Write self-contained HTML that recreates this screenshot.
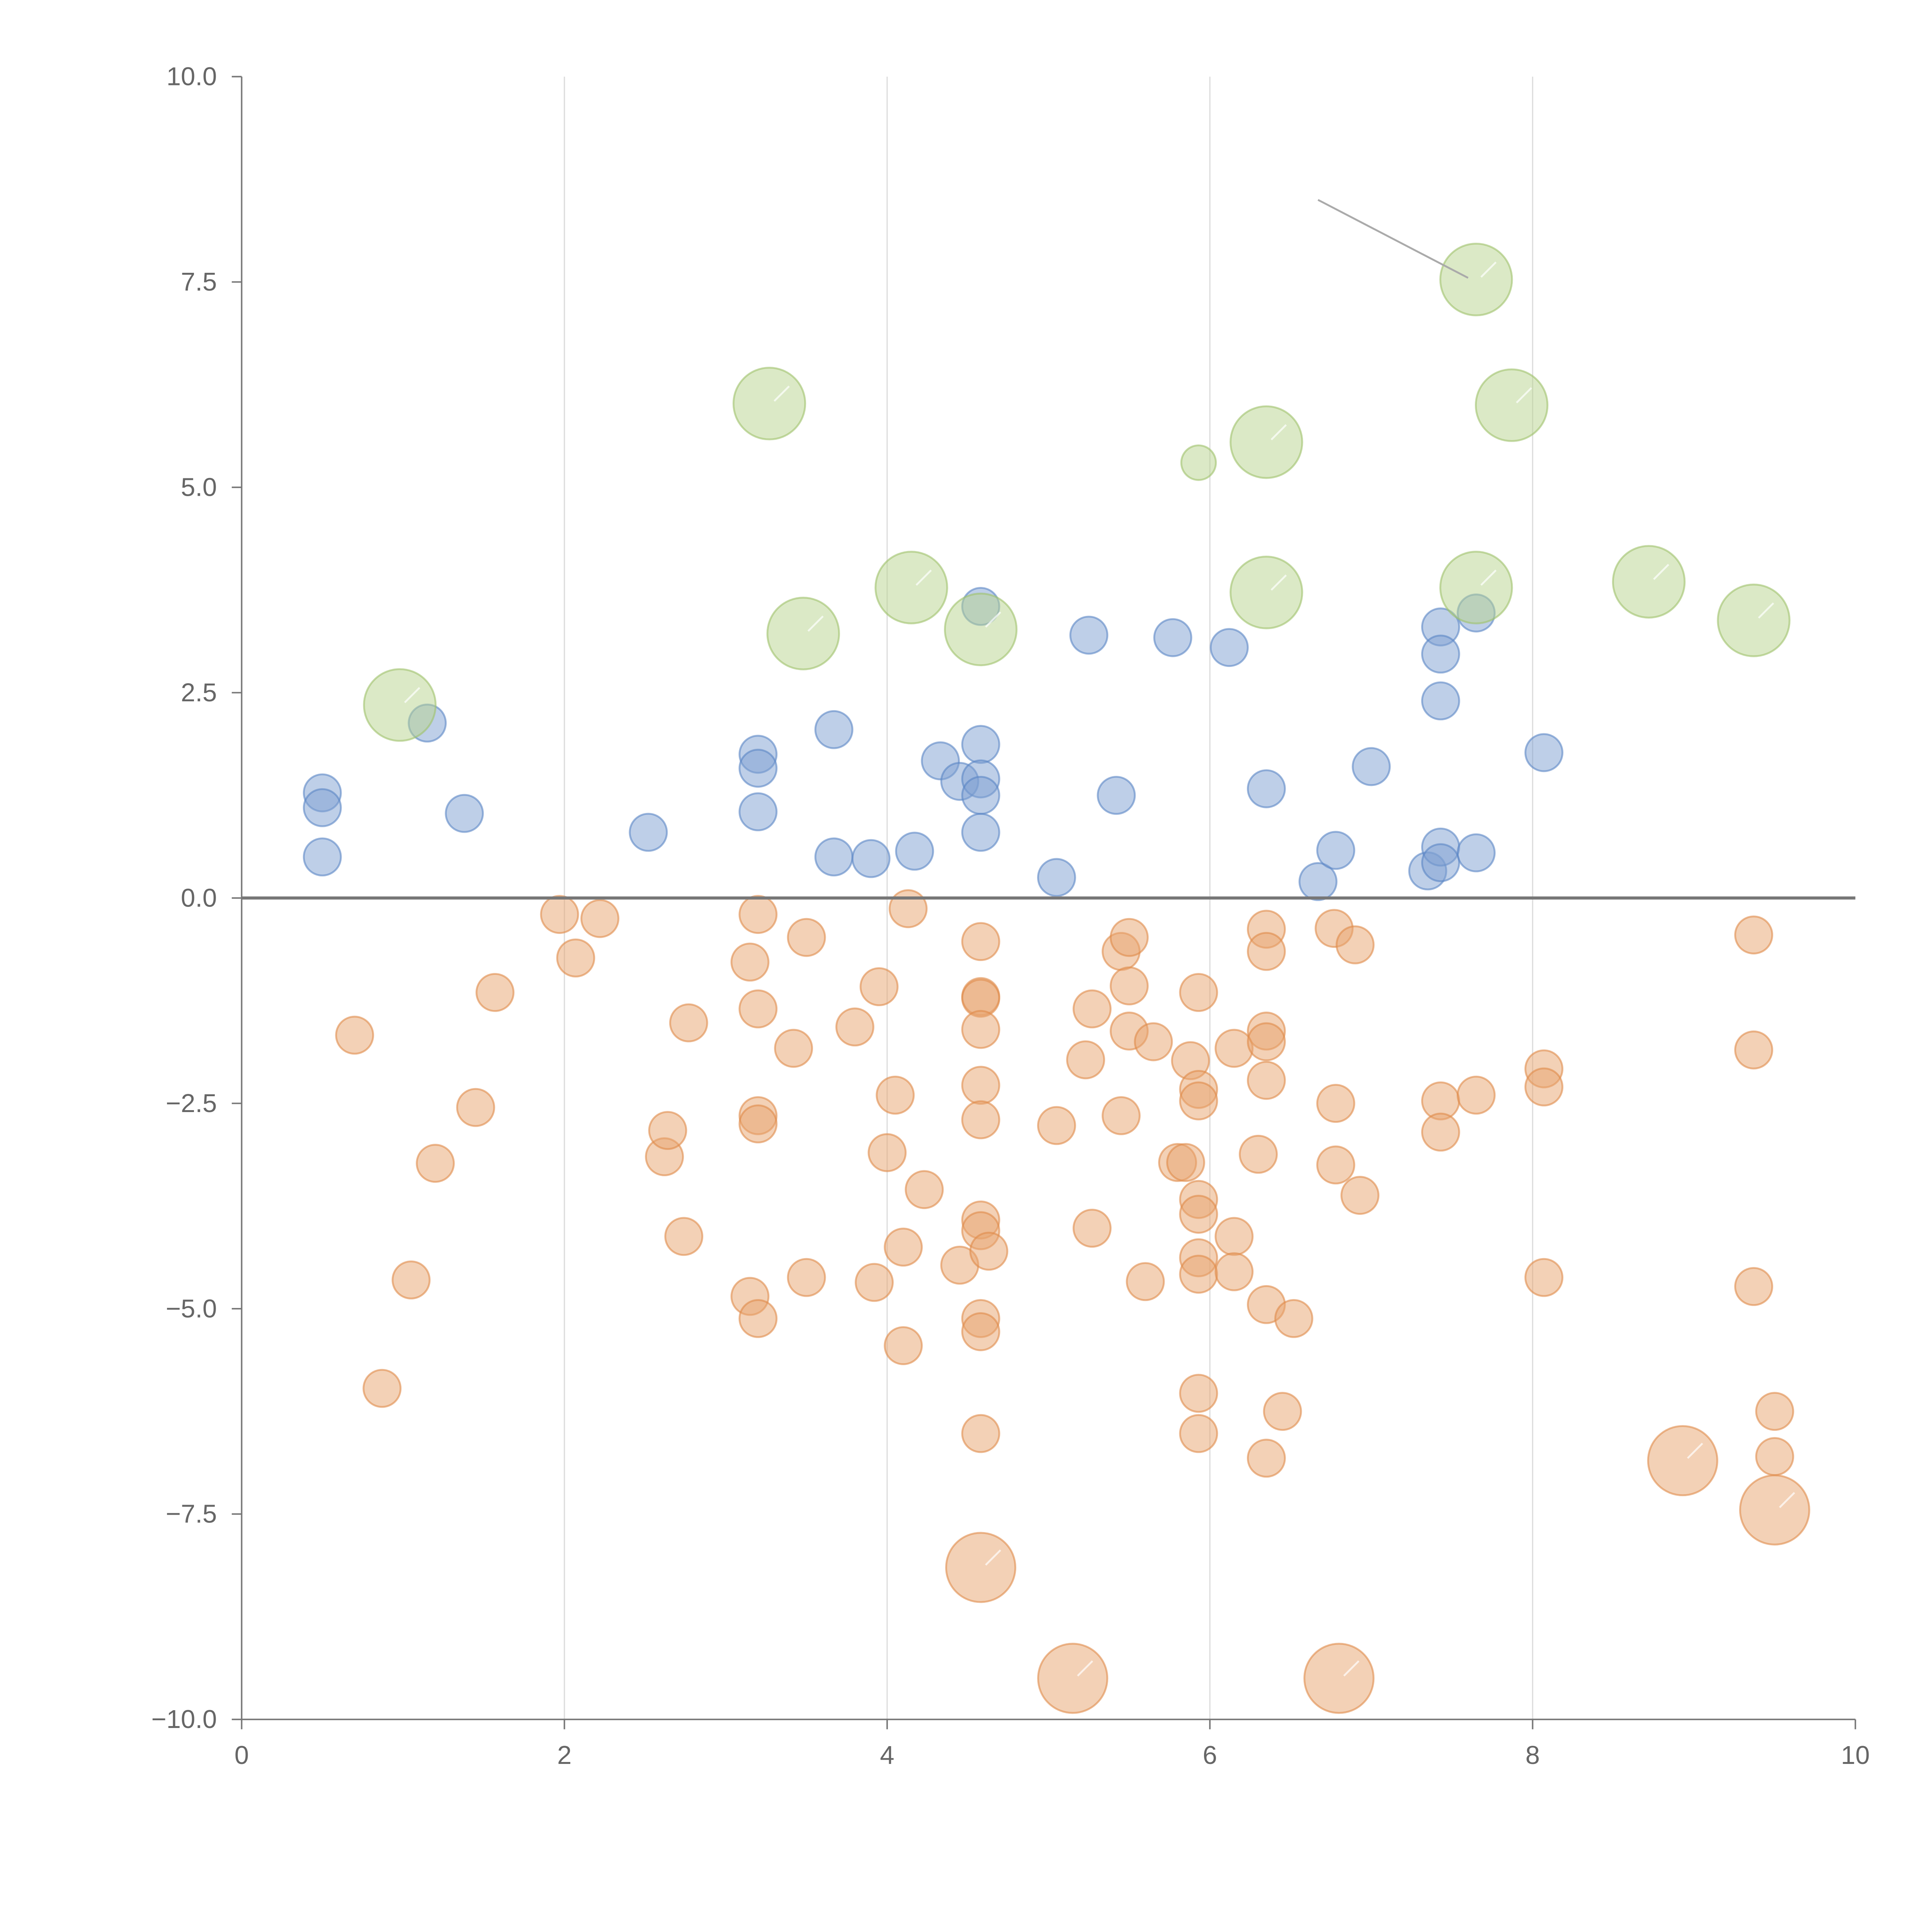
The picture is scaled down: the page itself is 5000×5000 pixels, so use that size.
<!DOCTYPE html>
<html><head><meta charset="utf-8"><style>html,body{margin:0;padding:0;background:#fff}svg{display:block}</style></head>
<body>
<svg id="chart" width="5000" height="5000" viewBox="0 0 1563 1563" xmlns="http://www.w3.org/2000/svg" font-family="Liberation Sans, sans-serif">
<g id="grid"></g>
<g id="marks"></g>
<g id="axes"></g>
</svg>
<script>
const xTicks=[0,2,4,6,8,10];
const yTicks=[-10,-7.5,-5,-2.5,0,2.5,5,7.5,10];
const yTickLabels=["\u221210.0","\u22127.5","\u22125.0","\u22122.5","0.0","2.5","5.0","7.5","10.0"];
const greenX=[0.98,3.27,3.48,4.15,4.58,5.93,6.35,6.35,7.65,7.87,7.65,8.72,9.37];
const greenY=[2.35,6.02,3.22,3.78,3.27,5.3,5.55,3.72,7.53,6.0,3.78,3.85,3.38];
const greenSize=[2,2,2,2,2,1,2,2,2,2,2,2,2];
const blueX=[0.5,0.5,0.5,1.15,1.38,2.52,3.2,3.2,3.2,3.67,3.67,3.9,4.17,4.33,4.45,4.58,4.58,4.58,4.58,4.58,5.05,5.25,5.42,5.77,6.12,6.35,6.67,6.78,7.0,7.35,7.43,7.43,7.43,7.43,7.43,7.65,7.65,8.07];
const blueY=[1.28,1.1,0.5,2.13,1.03,0.8,1.75,1.58,1.05,2.05,0.5,0.48,0.57,1.67,1.42,3.55,1.87,1.45,1.25,0.8,0.25,3.2,1.25,3.17,3.05,1.33,0.2,0.58,1.6,0.33,3.3,2.97,2.4,0.62,0.43,3.47,0.55,1.77];
const orangeX=[0.7,0.87,1.05,1.2,1.45,1.57,1.97,2.07,2.22,2.62,2.64,2.74,2.77,3.15,3.15,3.2,3.2,3.2,3.2,3.2,3.42,3.5,3.5,3.8,3.92,3.95,4.0,4.05,4.1,4.1,4.13,4.23,4.45,4.58,4.58,4.58,4.58,4.58,4.58,4.58,4.58,4.63,4.58,4.58,4.58,5.05,5.23,5.27,5.27,5.45,5.45,5.5,5.5,5.5,5.6,5.65,5.8,5.85,5.88,5.93,5.93,5.93,5.93,5.93,5.93,5.93,5.93,5.93,6.15,6.15,6.15,6.3,6.35,6.35,6.35,6.35,6.35,6.35,6.35,6.45,6.52,6.77,6.78,6.78,6.9,6.93,7.43,7.43,7.65,8.07,8.07,8.07,9.37,9.37,9.37,9.5,9.5];
const orangeY=[-1.67,-5.97,-4.65,-3.23,-2.55,-1.15,-0.2,-0.73,-0.25,-3.15,-2.83,-4.12,-1.52,-0.78,-4.85,-0.2,-1.35,-2.65,-2.75,-5.12,-1.83,-0.48,-4.62,-1.57,-4.68,-1.08,-3.1,-2.4,-4.25,-5.45,-0.13,-3.55,-4.47,-0.53,-1.2,-1.22,-1.6,-2.28,-2.7,-3.92,-4.05,-4.3,-5.12,-5.28,-6.52,-2.77,-1.97,-1.35,-4.02,-2.65,-0.65,-0.48,-1.07,-1.62,-4.67,-1.75,-3.22,-3.22,-1.98,-1.15,-2.33,-2.47,-3.67,-3.85,-4.38,-4.58,-6.03,-6.52,-1.83,-4.12,-4.55,-3.12,-0.38,-0.65,-1.62,-1.75,-2.22,-4.95,-6.82,-6.25,-5.12,-0.37,-2.5,-3.25,-0.57,-3.62,-2.47,-2.85,-2.4,-2.08,-2.3,-4.62,-0.45,-1.85,-4.73,-6.25,-6.8];
const bigOrangeX=[4.58,5.15,6.8,8.93,9.5];
const bigOrangeY=[-8.15,-9.5,-9.5,-6.85,-7.45];

const NS="http://www.w3.org/2000/svg";
const X0=195.5,X1=1501,Y0=1391,Y1=62;
function sx(v){return X0+(v-0)/(10-0)*(X1-X0);}
function sy(v){return Y0-(v+10)/20*(Y0-Y1);}
function mk(t,a,p){const e=document.createElementNS(NS,t);for(const k in a)e.setAttribute(k,a[k]);p.appendChild(e);return e;}
const grid=document.getElementById('grid'),marks=document.getElementById('marks'),axes=document.getElementById('axes');

xTicks.forEach(t=>{if(t>0&&t<10){const l=mk('line',{x1:sx(t),x2:sx(t),y1:Y1,y2:Y0,stroke:'#dddddd','stroke-width':1},grid);

}});

function bubble(x,y,r,fill,stroke,name,line){
  const c=mk('circle',{cx:sx(x),cy:sy(y),r:r,fill:fill,'fill-opacity':0.5,stroke:stroke,'stroke-opacity':0.6,'stroke-width':1.5},marks);
  
  
  if(line){const l=mk('line',{x1:sx(x)+4,y1:sy(y)-2,x2:sx(x)+16,y2:sy(y)-14,stroke:'#fff','stroke-opacity':0.7,'stroke-width':1.5},marks);
  
  }
}
orangeX.forEach((x,i)=>bubble(x,orangeY[i],15,'#e8a36e','#e08a4a','orange-bubble',false));
bigOrangeX.forEach((x,i)=>bubble(x,bigOrangeY[i],28,'#e8a36e','#e08a4a','large-orange-bubble',true));
blueX.forEach((x,i)=>bubble(x,blueY[i],15,'#7e9fd2','#5a85c4','blue-bubble',false));
greenX.forEach((x,i)=>bubble(x,greenY[i],greenSize[i]===2?29:14,'#b7d38e','#9fc16a','green-bubble',greenSize[i]===2));

const an=mk('line',{x1:sx(6.67),y1:sy(8.5),x2:sx(7.6),y2:sy(7.55),stroke:'#aaaaaa','stroke-width':1.5},marks);



const zl=mk('line',{x1:X0,x2:X1,y1:sy(0),y2:sy(0),stroke:'#777','stroke-width':2.5},axes);


const ya=mk('line',{x1:X0,x2:X0,y1:Y1,y2:Y0,stroke:'#777','stroke-width':1.2},axes);


const xa=mk('line',{x1:X0,x2:X1,y1:Y0,y2:Y0,stroke:'#777','stroke-width':1.2},axes);


yTicks.forEach((t,i)=>{
  const tk=mk('line',{x1:X0-8,x2:X0,y1:sy(t),y2:sy(t),stroke:'#777','stroke-width':1.2},axes);
  
  
  const tx=mk('text',{x:X0-20,y:sy(t)+7,'text-anchor':'end','font-size':21,fill:'#666'},axes);
  tx.textContent=yTickLabels[i];
  
  
});
xTicks.forEach(t=>{
  const tk=mk('line',{x1:sx(t),x2:sx(t),y1:Y0,y2:Y0+8,stroke:'#777','stroke-width':1.2},axes);
  
  
  const tx=mk('text',{x:sx(t),y:Y0+36,'text-anchor':'middle','font-size':21,fill:'#666'},axes);
  tx.textContent=String(t);
  
  
});
</script>
</body></html>
